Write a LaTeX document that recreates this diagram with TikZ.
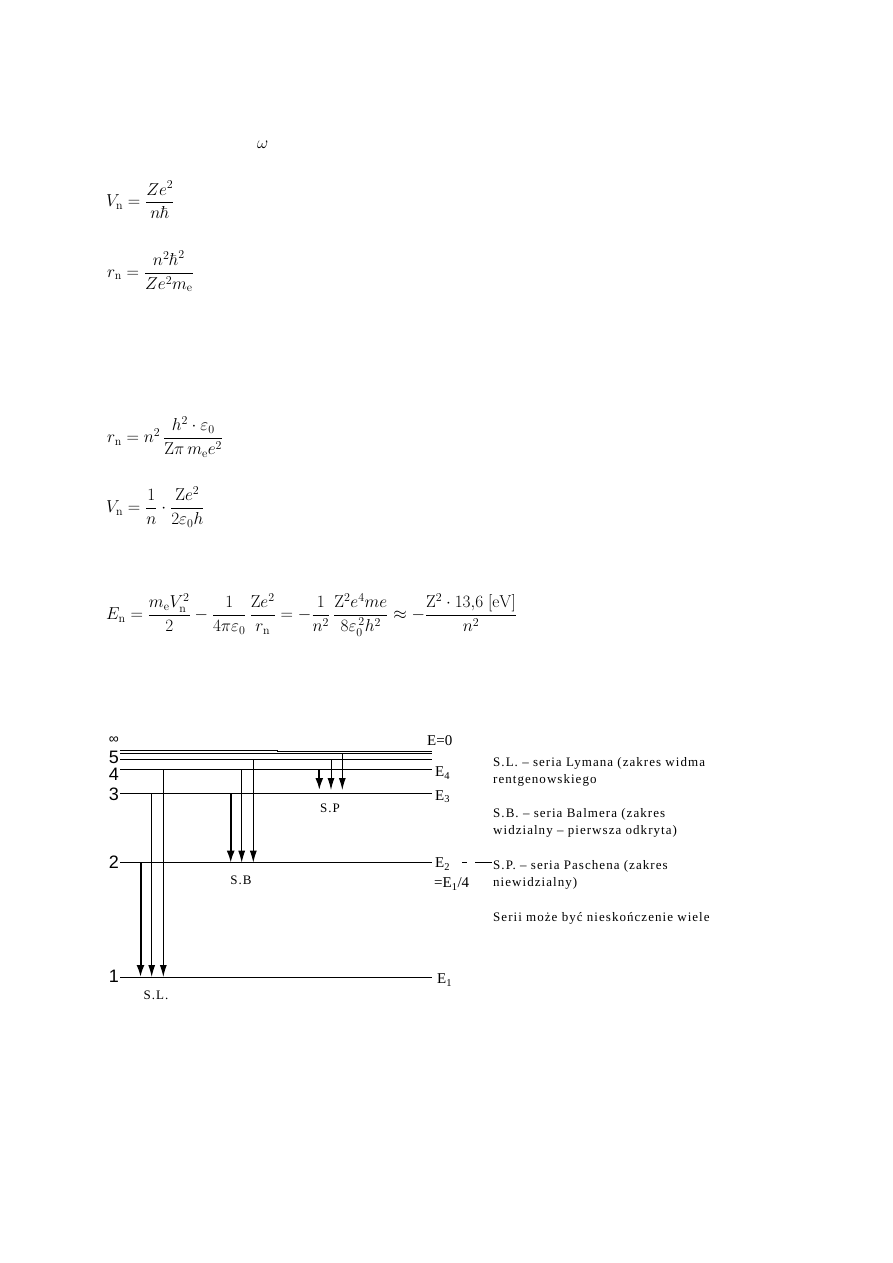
\documentclass[tikz,border=0pt]{standalone}
\usepackage{amsmath}
\usepackage[no-math]{fontspec}
\setmainfont{Liberation Serif}
\newfontfamily\numfont{Liberation Sans}
\newfontfamily\descfont[LetterSpace=8]{Liberation Serif}
\usetikzlibrary{arrows.meta}
\tikzset{
  lvl/.style={line width=1pt},
  thinarr/.style={line width=1pt,-{Latex[length=12pt,width=7pt]}},
  thickarr/.style={line width=2pt,-{Latex[length=12pt,width=8pt]}},
  numlab/.style={font=\numfont\fontsize{18}{18}\selectfont, inner sep=0pt, anchor=east},
  elab/.style={font=\fontsize{15}{15}\selectfont, inner sep=0pt, anchor=west},
  serlab/.style={font=\descfont\fontsize{13}{13}\selectfont, inner sep=0pt},
  desc/.style={font=\descfont\fontsize{13}{15}\selectfont, inner sep=0pt, anchor=west},
  eq/.style={font=\fontsize{17.6}{20}\selectfont, inner sep=0pt, anchor=west}
}
\begin{document}
\begin{tikzpicture}[x=1pt,y=-1pt]
\path[use as bounding box, fill=white] (0,0) rectangle (893,1263);

% ---------- formulas ----------
\node[eq] (omega) at (257,145) {$\omega$};
\node[eq] (v1) at (106,200) {$V_{\mathrm{n}}=\dfrac{Ze^2}{n\hbar}$};
\node[eq] (r1) at (107,271) {$r_{\mathrm{n}}=\dfrac{n^2\hbar^2}{Ze^2m_{\mathrm{e}}}$};
\node[eq] (r2) at (107,437) {$r_{\mathrm{n}}=n^2\,\dfrac{h^2\cdot\varepsilon_0}{\mathrm{Z}\pi\, m_{\mathrm{e}}e^2}$};
\node[eq] (v2) at (106,507) {$V_{\mathrm{n}}=\dfrac{1}{n}\cdot\dfrac{\mathrm{Z}e^2}{2\varepsilon_0 h}$};
\node[eq] (en) at (106,615) {$E_{\mathrm{n}}=\dfrac{m_{\mathrm{e}}V_{\mathrm{n}}^2}{2}-\dfrac{1}{4\pi\varepsilon_0}\,\dfrac{\mathrm{Z}e^2}{r_{\mathrm{n}}}=-\dfrac{1}{n^2}\,\dfrac{\mathrm{Z}^2e^4me}{8\varepsilon_0^{\,2}h^2}\approx-\dfrac{\mathrm{Z}^2\cdot 13{,}6\;[\mathrm{eV}]}{n^2}$};

% ---------- energy levels ----------
\coordinate (Linf) at (120,750);
\coordinate (Lk) at (277,750);
\coordinate (Lk2) at (277,751);
\coordinate (Rinf) at (432,751);
\coordinate (La) at (120,753.5);
\coordinate (Ra) at (432,753.5);
\coordinate (L5) at (120,759.3);
\coordinate (R5) at (432,759.3);
\coordinate (L4) at (120,769.3);
\coordinate (R4) at (432,769.3);
\coordinate (L3) at (120,793.3);
\coordinate (R3) at (432,793.3);
\coordinate (L2) at (120,862.7);
\coordinate (R2) at (432,862.7);
\coordinate (L1) at (120,977);
\coordinate (R1) at (432,977);

\draw[lvl] (Linf) -- (Lk) -- (Lk2) -- (Rinf);
\draw[lvl] (La) -- (Ra);
\draw[lvl] (L5) -- (R5);
\draw[lvl] (L4) -- (R4);
\draw[lvl] (L3) -- (R3);
\draw[lvl] (L2) -- (R2);
\draw[lvl] (L1) -- (R1);

% level numbers
\node[numlab, font=\numfont\fontsize{14}{14}\selectfont] (ninf) at (119,740) {∞};
\node[numlab] (n5) at (119,757) {5};
\node[numlab] (n4) at (119,774) {4};
\node[numlab] (n3) at (119,794) {3};
\node[numlab] (n2) at (119,862) {2};
\node[numlab] (n1) at (119,976) {1};

% energy labels
\node[elab] (e0) at (427,741) {E=0};
\node[elab] (e4) at (435,773) {E\textsubscript{4}};
\node[elab] (e3) at (435,797) {E\textsubscript{3}};
\node[elab] (e2) at (435,864) {E\textsubscript{2}};
\node[elab] (e14) at (434,884) {=E\textsubscript{1}/4};
\node[elab] (e1) at (437,980) {E\textsubscript{1}};
\coordinate (d1a) at (462,862.7);
\coordinate (d1b) at (467,862.7);
\coordinate (d2a) at (475,862.7);
\coordinate (d2b) at (492,862.7);
\draw[lvl] (d1a) -- (d1b);
\draw[lvl] (d2a) -- (d2b);

% ---------- transitions ----------
% Lyman
\coordinate (ly1s) at (140.5,862.7);
\coordinate (ly1e) at (140.5,977);
\coordinate (ly2s) at (151.7,793.3);
\coordinate (ly2e) at (151.7,977);
\coordinate (ly3s) at (163.3,769.3);
\coordinate (ly3e) at (163.3,977);
\draw[thickarr] (ly1s) -- (ly1e);
\draw[thinarr] (ly2s) -- (ly2e);
\draw[thinarr] (ly3s) -- (ly3e);
% Balmer
\coordinate (ba1s) at (230.7,793.3);
\coordinate (ba1e) at (230.7,862.7);
\coordinate (ba2s) at (241.7,769.3);
\coordinate (ba2e) at (241.7,862.7);
\coordinate (ba3s) at (253.3,759.3);
\coordinate (ba3e) at (253.3,862.7);
\draw[thickarr] (ba1s) -- (ba1e);
\draw[thinarr] (ba2s) -- (ba2e);
\draw[thinarr] (ba3s) -- (ba3e);
% Paschen
\coordinate (pa1s) at (319.3,769.3);
\coordinate (pa1e) at (319.3,790);
\coordinate (pa2s) at (331,759.3);
\coordinate (pa2e) at (331,790);
\coordinate (pa3s) at (342.3,753.5);
\coordinate (pa3e) at (342.3,790);
\draw[thickarr] (pa1s) -- (pa1e);
\draw[thinarr] (pa2s) -- (pa2e);
\draw[thinarr] (pa3s) -- (pa3e);

% series labels
\node[serlab] (sp) at (330,808) {S.P};
\node[serlab] (sb) at (241,880) {S.B};
\node[serlab] (sl) at (156,995) {S.L.};

% ---------- description ----------
\node[desc] (t1) at (493,763) {S.L. – seria Lymana (zakres widma};
\node[desc] (t2) at (493,780) {rentgenowskiego};
\node[desc] (t3) at (493,814) {S.B. – seria Balmera (zakres};
\node[desc] (t4) at (493,831) {widzialny – pierwsza odkryta)};
\node[desc] (t5) at (493,866) {S.P. – seria Paschena (zakres};
\node[desc] (t6) at (493,883) {niewidzialny)};
\node[desc] (t7) at (493,918) {Serii może być nieskończenie wiele};
\end{tikzpicture}
\end{document}
